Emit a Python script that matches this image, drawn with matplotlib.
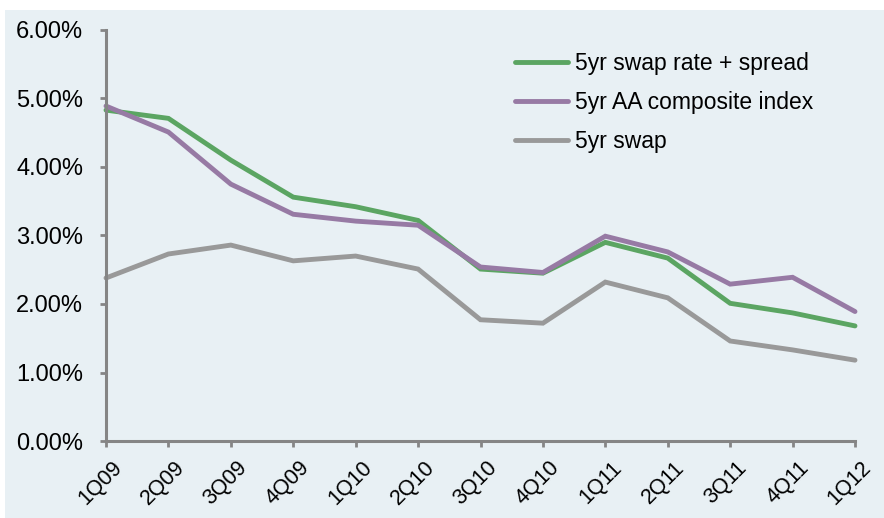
import numpy as np
import matplotlib
matplotlib.use("Agg")
import matplotlib.pyplot as plt
from matplotlib.patches import Rectangle
from matplotlib.ticker import FuncFormatter
from matplotlib.transforms import ScaledTranslation

plt.rcParams['font.family'] = ['Liberation Sans', 'DejaVu Sans']

quarters = ["1Q09", "2Q09", "3Q09", "4Q09", "1Q10", "2Q10", "3Q10",
            "4Q10", "1Q11", "2Q11", "3Q11", "4Q11", "1Q12"]
swap_spread = [4.83, 4.71, 4.10, 3.56, 3.42, 3.22, 2.51, 2.45, 2.90, 2.67, 2.01, 1.87, 1.68]
aa_index = [4.89, 4.51, 3.75, 3.31, 3.21, 3.15, 2.54, 2.46, 2.99, 2.76, 2.29, 2.39, 1.89]
swap = [2.38, 2.73, 2.86, 2.63, 2.70, 2.51, 1.77, 1.72, 2.32, 2.09, 1.46, 1.33, 1.18]

series = [
    ("5yr swap rate + spread", swap_spread, "#5ba562"),
    ("5yr AA composite index", aa_index, "#977aa4"),
    ("5yr swap", swap, "#999999"),
]

bg = "#e8f0f4"
axis_col = "#858585"

fig = plt.figure(figsize=(8.84, 5.18), dpi=100)
panel = Rectangle((5 / 884, 0), 1, 1 - 10 / 518, transform=fig.transFigure,
                  facecolor=bg, edgecolor="none", zorder=-10)
fig.add_artist(panel)

ax = fig.add_axes([106 / 884, 1 - 441 / 518, (855 - 106) / 884, (441 - 30) / 518])
ax.set_facecolor("none")

x = np.arange(len(quarters))
for name, vals, col in series:
    ax.plot(x, np.array(vals) / 100, color=col, lw=3.5, label=name,
            solid_capstyle="round", solid_joinstyle="miter", clip_on=False)

ax.set_xlim(0, len(quarters) - 1)
ax.set_ylim(0, 0.06)
ax.set_yticks(np.arange(0, 0.061, 0.01))
ax.yaxis.set_major_formatter(FuncFormatter(lambda v, p: f"{v * 100:.2f}%"))
ax.set_xticks(x)
ax.set_xticklabels(quarters, rotation=45, ha="right", va="top", rotation_mode="anchor")

for s in ["top", "right"]:
    ax.spines[s].set_visible(False)
for s in ["left", "bottom"]:
    ax.spines[s].set_color(axis_col)
    ax.spines[s].set_linewidth(2.2)
ax.tick_params(axis="both", colors=axis_col, width=2, length=4.5, labelcolor="black")
ax.tick_params(axis="y", labelsize=17, pad=12)
ax.tick_params(axis="x", labelsize=15.5, pad=7)

# nudge the slanted quarter labels a little to the right, like the original
shift = ScaledTranslation(6 / 100, 0, fig.dpi_scale_trans)
for lab in ax.get_xticklabels():
    lab.set_transform(lab.get_transform() + shift)

leg = ax.legend(loc="upper left", bbox_to_anchor=(0.519, 0.997), frameon=False,
                fontsize=16.5, handlelength=2.3, handletextpad=0.3, labelspacing=0.7)

fig.savefig("out.png", dpi=100)
